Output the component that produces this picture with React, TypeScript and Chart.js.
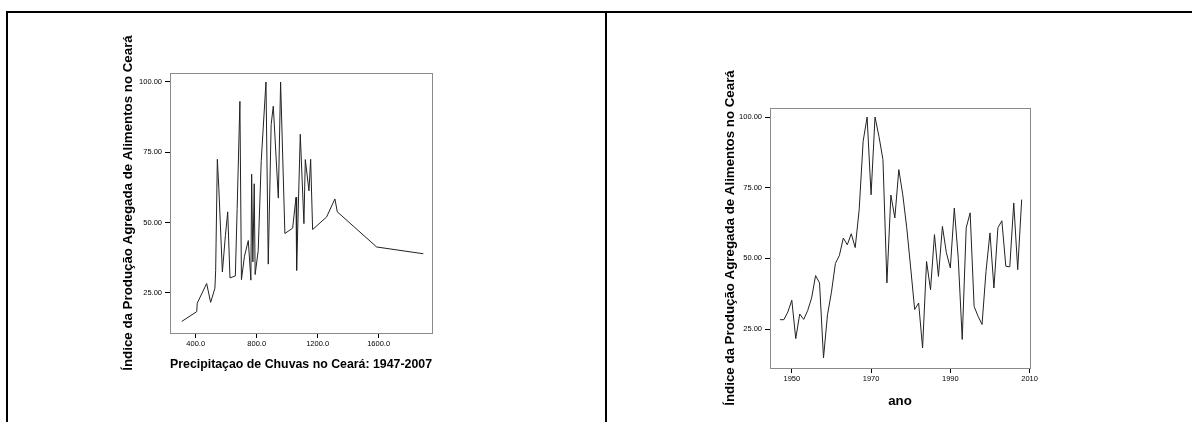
import React, { useEffect, useRef } from "react";
import { Chart, registerables } from "chart.js";
Chart.register(...registerables);

// ---- Data ----
const leftPrecip = [308, 407, 410, 472, 498, 526, 531, 542, 552, 575, 595, 610, 625, 660, 672, 690, 700, 720, 745, 762, 767, 775, 784, 790, 810, 830, 861, 876, 895, 909, 942, 957, 985, 1036, 1058, 1062, 1086, 1110, 1119, 1143, 1154, 1167, 1259, 1313, 1329, 1587, 1893];
const leftIndex = [14.8, 18.3, 21.3, 28.3, 21.6, 26.6, 33.0, 72.5, 62, 32.4, 45.4, 53.8, 30.3, 31, 55, 93.1, 29.7, 38, 43.6, 29.5, 67.2, 36, 63.8, 31.5, 40, 72, 100, 35.2, 84.9, 91.4, 58.7, 100, 46.1, 48, 59, 33.0, 81.4, 49.6, 72.4, 61.3, 72.5, 47.5, 52, 58.4, 53.8, 41.3, 38.9];
const leftXTicks = [400, 800, 1200, 1600];
const leftYTicks = [25, 50, 75, 100];

const years = [1947, 1948, 1949, 1950, 1951, 1952, 1953, 1954, 1955, 1956, 1957, 1958, 1959, 1960, 1961, 1962, 1963, 1964, 1965, 1966, 1967, 1968, 1969, 1970, 1971, 1972, 1973, 1974, 1975, 1976, 1977, 1978, 1979, 1980, 1981, 1982, 1983, 1984, 1985, 1986, 1987, 1988, 1989, 1990, 1991, 1992, 1993, 1994, 1995, 1996, 1997, 1998, 1999, 2000, 2001, 2002, 2003, 2004, 2005, 2006, 2007, 2008];
const rightIndex = [28.3, 28.3, 31, 35.2, 21.6, 30.3, 28.4, 31.5, 36, 43.9, 41.3, 14.8, 30, 38, 48.2, 51, 57.2, 54.8, 58.7, 53.8, 67.2, 91.4, 100, 72.5, 100, 93.1, 84.9, 41.3, 72.4, 64.3, 81.4, 72.5, 60.8, 46.6, 31.9, 34.2, 18.3, 48.9, 38.9, 58.4, 43.6, 61.3, 52, 46.6, 67.8, 50, 21.3, 60.8, 66.1, 33.0, 29.5, 26.6, 45.4, 59.0, 39.5, 60.8, 63.3, 47.2, 47.0, 69.6, 46.0, 70.8];
const rightXTicks = [1950, 1970, 1990, 2010];
const rightYTicks = [25, 50, 75, 100];

const yTitle = "Índice da Produção Agregada de Alimentos no Ceará";
const leftXTitle = "Precipitaçao de Chuvas no Ceará: 1947-2007";
const rightXTitle = "ano";

const FAMILY = "'Liberation Sans', Arial, sans-serif";

const framePlugin = {
  id: "frame",
  afterDatasetsDraw(chart: any) {
    const { ctx, chartArea: a } = chart;
    ctx.save();
    ctx.strokeStyle = "#8a8a8a";
    ctx.lineWidth = 1;
    ctx.strokeRect(
      Math.round(a.left) + 0.5,
      Math.round(a.top) + 0.5,
      Math.round(a.right - a.left),
      Math.round(a.bottom - a.top)
    );
    ctx.restore();
  },
};

function axis(opts: {
  ticks: number[];
  min: number;
  max: number;
  decimals: number;
  title: string;
  size: number;
  horizontal: boolean;
}) {
  return {
    type: "linear",
    min: opts.min,
    max: opts.max,
    afterBuildTicks: (s: any) => {
      s.ticks = opts.ticks.map((v) => ({ value: v }));
    },
    afterFit: (s: any) => {
      if (opts.horizontal) s.height = opts.size;
      else s.width = opts.size;
    },
    ticks: {
      callback: (v: any) => Number(v).toFixed(opts.decimals),
      font: { family: FAMILY, size: 7.5 },
      color: "#000",
      padding: opts.horizontal ? 1 : 3,
      maxRotation: 0,
      autoSkip: false,
    },
    grid: {
      drawOnChartArea: false,
      drawTicks: true,
      tickLength: 5,
      color: "#000",
      lineWidth: 1,
    },
    border: { display: false },
    title: {
      display: true,
      text: opts.title,
      font: { family: FAMILY, size: 13.3, weight: "bold" },
      color: "#000",
      padding: 0,
    },
  };
}

function useChart(
  ref: React.RefObject<HTMLCanvasElement | null>,
  build: () => any
) {
  useEffect(() => {
    if (!ref.current) return;
    const chart = new Chart(ref.current, build());
    return () => chart.destroy();
  }, []);
}

export default function App() {
  const leftRef = useRef<HTMLCanvasElement | null>(null);
  const rightRef = useRef<HTMLCanvasElement | null>(null);

  useChart(leftRef, () => ({
    type: "line",
    data: {
      datasets: [
        {
          data: leftPrecip.map((p, i) => ({ x: p, y: leftIndex[i] })),
          borderColor: "#222",
          borderWidth: 1,
          pointRadius: 0,
          tension: 0,
          fill: false,
        },
      ],
    },
    options: {
      responsive: false,
      animation: false,
      devicePixelRatio: 1,
      layout: { padding: { left: 20, top: 53, right: 38, bottom: 38 } },
      plugins: { legend: { display: false }, tooltip: { enabled: false } },
      scales: {
        x: axis({ ticks: leftXTicks, min: 231.5, max: 1950, decimals: 1, title: leftXTitle, size: 39, horizontal: true }),
        y: axis({ ticks: leftYTicks, min: 10.7, max: 103.2, decimals: 2, title: yTitle, size: 50, horizontal: false }),
      },
    },
    plugins: [framePlugin],
  }));

  useChart(rightRef, () => ({
    type: "line",
    data: {
      datasets: [
        {
          data: years.map((yr, i) => ({ x: yr, y: rightIndex[i] })),
          borderColor: "#222",
          borderWidth: 1,
          pointRadius: 0,
          tension: 0,
          fill: false,
        },
      ],
    },
    options: {
      responsive: false,
      animation: false,
      devicePixelRatio: 1,
      layout: { padding: { left: 22, top: 68, right: 30, bottom: 16 } },
      plugins: { legend: { display: false }, tooltip: { enabled: false } },
      scales: {
        x: axis({ ticks: rightXTicks, min: 1944.5, max: 2010.1, decimals: 0, title: rightXTitle, size: 41, horizontal: true }),
        y: axis({ ticks: rightYTicks, min: 11.2, max: 103.2, decimals: 2, title: yTitle, size: 48, horizontal: false }),
      },
    },
    plugins: [framePlugin],
  }));

  return (
    <div
      style={{
        position: "absolute",
        left: 0,
        top: 0,
        width: 1192,
        height: 425,
        overflow: "hidden",
        background: "#fff",
      }}
    >
      <div style={{ position: "absolute", left: 6, top: 11, width: 1186, height: 2, background: "#000" }} />
      <div style={{ position: "absolute", left: 6, top: 11, width: 2, height: 411, background: "#000" }} />
      <div style={{ position: "absolute", left: 605, top: 11, width: 2, height: 411, background: "#000" }} />
      <canvas
        ref={leftRef}
        width={370}
        height={390}
        style={{ position: "absolute", left: 100, top: 20, display: "block" }}
      />
      <canvas
        ref={rightRef}
        width={360}
        height={385}
        style={{ position: "absolute", left: 700, top: 40, display: "block" }}
      />
    </div>
  );
}
